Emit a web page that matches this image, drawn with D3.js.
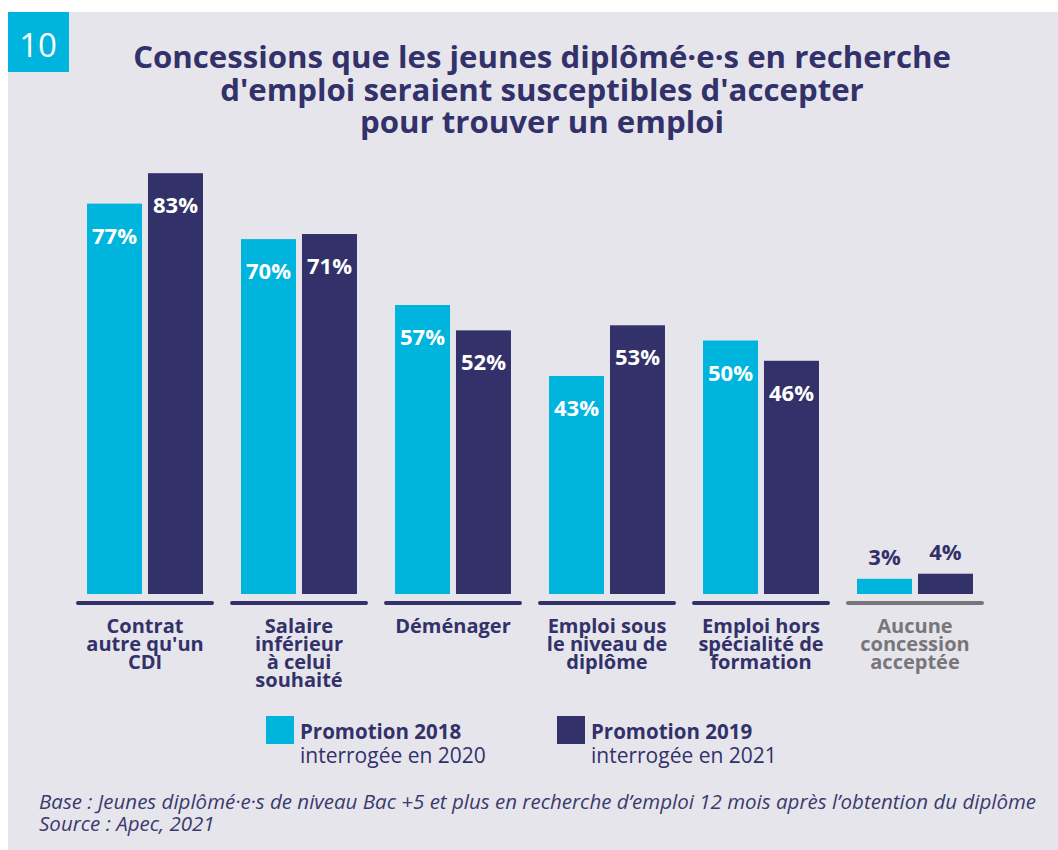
<!DOCTYPE html>
<html>
<head>
<meta charset="utf-8">
<script src="https://cdn.jsdelivr.net/npm/d3@7"></script>
<style>
  html, body { margin: 0; padding: 0; background: #fff; }
  svg { display: block; font-family: "Open Sans", sans-serif; }
</style>
</head>
<body>
<div id="chart"></div>
<script>
// Chart values
const categories = [
  ["Contrat", "autre qu'un", "CDI"],
  ["Salaire", "inférieur", "à celui", "souhaité"],
  ["Déménager"],
  ["Emploi sous", "le niveau de", "diplôme"],
  ["Emploi hors", "spécialité de", "formation"],
  ["Aucune", "concession", "acceptée"]
];
const promo2018 = [77, 70, 57, 43, 50, 3];
const promo2019 = [83, 71, 52, 53, 46, 4];
const seriesNames = ["Promotion 2018", "Promotion 2019"];
const seriesSubs = ["interrogée en 2020", "interrogée en 2021"];
const titleLines = [
  "Concessions que les jeunes diplômé·e·s en recherche",
  "d'emploi seraient susceptibles d'accepter",
  "pour trouver un emploi"
];
const footLines = [
  "Base : Jeunes diplômé·e·s de niveau Bac +5 et plus en recherche d’emploi 12 mois après l’obtention du diplôme",
  "Source : Apec, 2021"
];

const width = 1058, height = 850;
const lightBlue = "#00b5dd", navy = "#32316a", grey = "#77767b", bg = "#e6e5ec";

const svg = d3.select("#chart").append("svg")
  .attr("width", width)
  .attr("height", height);

// Grey panel with the number tab
svg.append("rect").attr("x", 8).attr("y", 12)
  .attr("width", width - 8).attr("height", height - 12).attr("fill", bg);
svg.append("rect").attr("x", 8).attr("y", 12)
  .attr("width", 61).attr("height", 60).attr("fill", lightBlue);
svg.append("text").attr("x", 38).attr("y", 57)
  .attr("text-anchor", "middle").attr("fill", "#fff")
  .attr("font-size", 33).attr("font-weight", 500)
  .text("10");

// Title, sized so the first line spans as in the picture
const title = svg.append("g").attr("fill", navy).attr("font-weight", 700)
  .attr("text-anchor", "middle");
title.selectAll("text").data(titleLines).join("text")
  .attr("x", 542)
  .attr("y", (d, i) => 68 + i * 32.5)
  .attr("font-size", 28)
  .text(d => d);
fitWidth(title.selectAll("text"), title.select("text").node(), 818);

// Scales
const data = categories.map((c, i) => ({label: c, values: [promo2018[i], promo2019[i]]}));

const x = d3.scaleBand()
  .domain(d3.range(categories.length))
  .range([68, 992])
  .paddingInner(0.247)
  .paddingOuter(0.1235);

const xSub = d3.scaleBand()
  .domain([0, 1])
  .range([0, x.bandwidth()])
  .paddingInner(0.098);

const y = d3.scaleLinear().domain([0, 100]).range([594, 87]);
const colours = [lightBlue, navy];

const groups = svg.append("g").selectAll("g").data(data).join("g")
  .attr("transform", (d, i) => `translate(${x(i)},0)`);

groups.selectAll("rect").data(d => d.values).join("rect")
  .attr("x", (d, j) => xSub(j))
  .attr("y", d => y(d))
  .attr("width", xSub.bandwidth())
  .attr("height", d => y(0) - y(d))
  .attr("fill", (d, j) => colours[j]);

// Percentage labels: inside the bar, or above it when the bar is too short
groups.selectAll("text.val").data(d => d.values).join("text")
  .attr("class", "val")
  .attr("x", (d, j) => xSub(j) + xSub.bandwidth() / 2)
  .attr("y", d => d > 10 ? y(d) + 40 : y(d) - 14)
  .attr("text-anchor", "middle")
  .attr("font-size", 22).attr("font-weight", 700)
  .attr("fill", d => d > 10 ? "#fff" : navy)
  .text(d => d + "%");

// Baseline under each group
groups.append("line")
  .attr("x1", -9).attr("x2", x.bandwidth() + 9)
  .attr("y1", 603).attr("y2", 603)
  .attr("stroke", (d, i) => i === data.length - 1 ? grey : navy)
  .attr("stroke-width", 4)
  .attr("stroke-linecap", "round");

// Category names
groups.append("text")
  .attr("text-anchor", "middle")
  .attr("font-size", 20).attr("font-weight", 700)
  .attr("fill", (d, i) => i === data.length - 1 ? grey : navy)
  .selectAll("tspan").data(d => d.label).join("tspan")
  .attr("x", x.bandwidth() / 2)
  .attr("y", (d, k) => 633 + k * 18)
  .text(d => d);

// Legend
const legend = svg.append("g").selectAll("g").data(seriesNames).join("g")
  .attr("transform", (d, i) => `translate(${266 + i * 291},716)`);
legend.append("rect")
  .attr("width", 28).attr("height", 28)
  .attr("fill", (d, i) => colours[i]);
legend.append("text")
  .attr("x", 34).attr("y", 23)
  .attr("font-size", 20.5).attr("font-weight", 700).attr("fill", navy)
  .text(d => d);
legend.append("text")
  .attr("x", 34).attr("y", 47)
  .attr("font-size", 21).attr("font-weight", 400).attr("fill", navy)
  .text((d, i) => seriesSubs[i]);

// Footnote
const foot = svg.append("g").attr("fill", "#3b3a6e").attr("font-style", "italic");
foot.selectAll("text").data(footLines).join("text")
  .attr("x", 39)
  .attr("y", (d, i) => 809 + i * 22)
  .attr("font-size", 15)
  .text(d => d);
fitWidth(foot.selectAll("text"), foot.select("text").node(), 998);

// Scale a set of lines so a reference line reaches the target width
function fitWidth(sel, ref, target) {
  const size = +ref.getAttribute("font-size");
  const w = ref.getComputedTextLength();
  if (w > 0) sel.attr("font-size", size * target / w);
}
</script>
</body>
</html>
